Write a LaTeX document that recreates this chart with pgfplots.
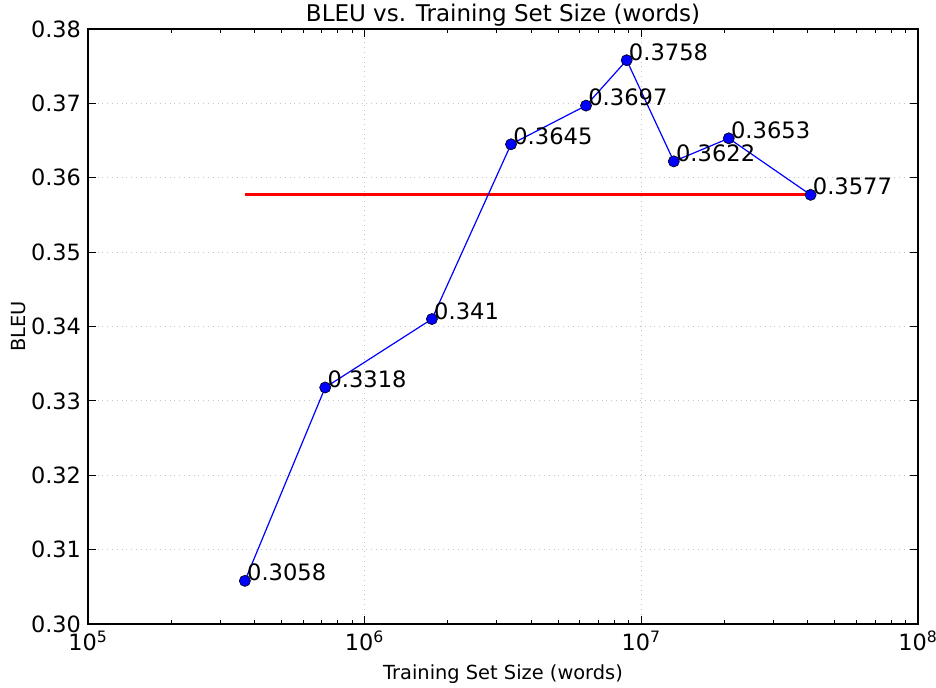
\documentclass[border=0pt]{standalone}
\usepackage{fontspec}
\setmainfont{DejaVu Sans}
\usepackage{pgfplots}
\pgfplotsset{compat=1.18}
\begin{document}
\begin{tikzpicture}
\useasboundingbox (0,0) rectangle (468pt,344pt);
\begin{axis}[
  at={(44pt,32pt)}, anchor=south west,
  scale only axis, width=415pt, height=297.5pt,
  xmode=log, xmin=1e5, xmax=1e8,
  ymin=0.30, ymax=0.38,
  xtick={1e5,1e6,1e7,1e8},
  xticklabels={10\textsuperscript{5},10\textsuperscript{6},10\textsuperscript{7},10\textsuperscript{8}},
  ytick={0.30,0.31,0.32,0.33,0.34,0.35,0.36,0.37,0.38},
  yticklabels={0.30,0.31,0.32,0.33,0.34,0.35,0.36,0.37,0.38},
  tick label style={font=\fontsize{11.2}{13}\selectfont},
  title={BLEU vs. Training Set Size (words)},
  title style={font=\fontsize{11.5}{13}\selectfont, yshift=-8pt},
  xlabel={Training Set Size (words)},
  ylabel={BLEU},
  label style={font=\fontsize{9.7}{11}\selectfont},
  xlabel style={yshift=0pt},
  ylabel style={yshift=-4pt},
  axis line style={line width=0.6pt},
  major tick length=4pt, minor tick length=2pt,
  every tick/.style={black, line width=0.5pt},
  grid=major,
  major grid style={dotted, gray!45, line width=0.5pt},
  clip=false,
]
\addplot[red, line width=1.5pt] coordinates {(3.69e5,0.3577) (4.09e7,0.3577)};
\addplot[blue, line width=0.6pt, mark=*,
  mark options={fill=blue, draw=black, line width=0.3pt, scale=1.4},
  point meta=explicit symbolic,
  nodes near coords,
  nodes near coords style={anchor=base west, inner sep=0pt, xshift=1pt,
    font=\fontsize{11.3}{13}\selectfont, text=black},
] coordinates {
(3.69e5,0.3058) [0.3058]
(7.2e5,0.3318) [0.3318]
(1.75e6,0.341) [0.341]
(3.38e6,0.3645) [0.3645]
(6.31e6,0.3697) [0.3697]
(8.85e6,0.3758) [0.3758]
(1.31e7,0.3622) [0.3622]
(2.07e7,0.3653) [0.3653]
(4.09e7,0.3577) [0.3577]
};
\end{axis}
\end{tikzpicture}
\end{document}
